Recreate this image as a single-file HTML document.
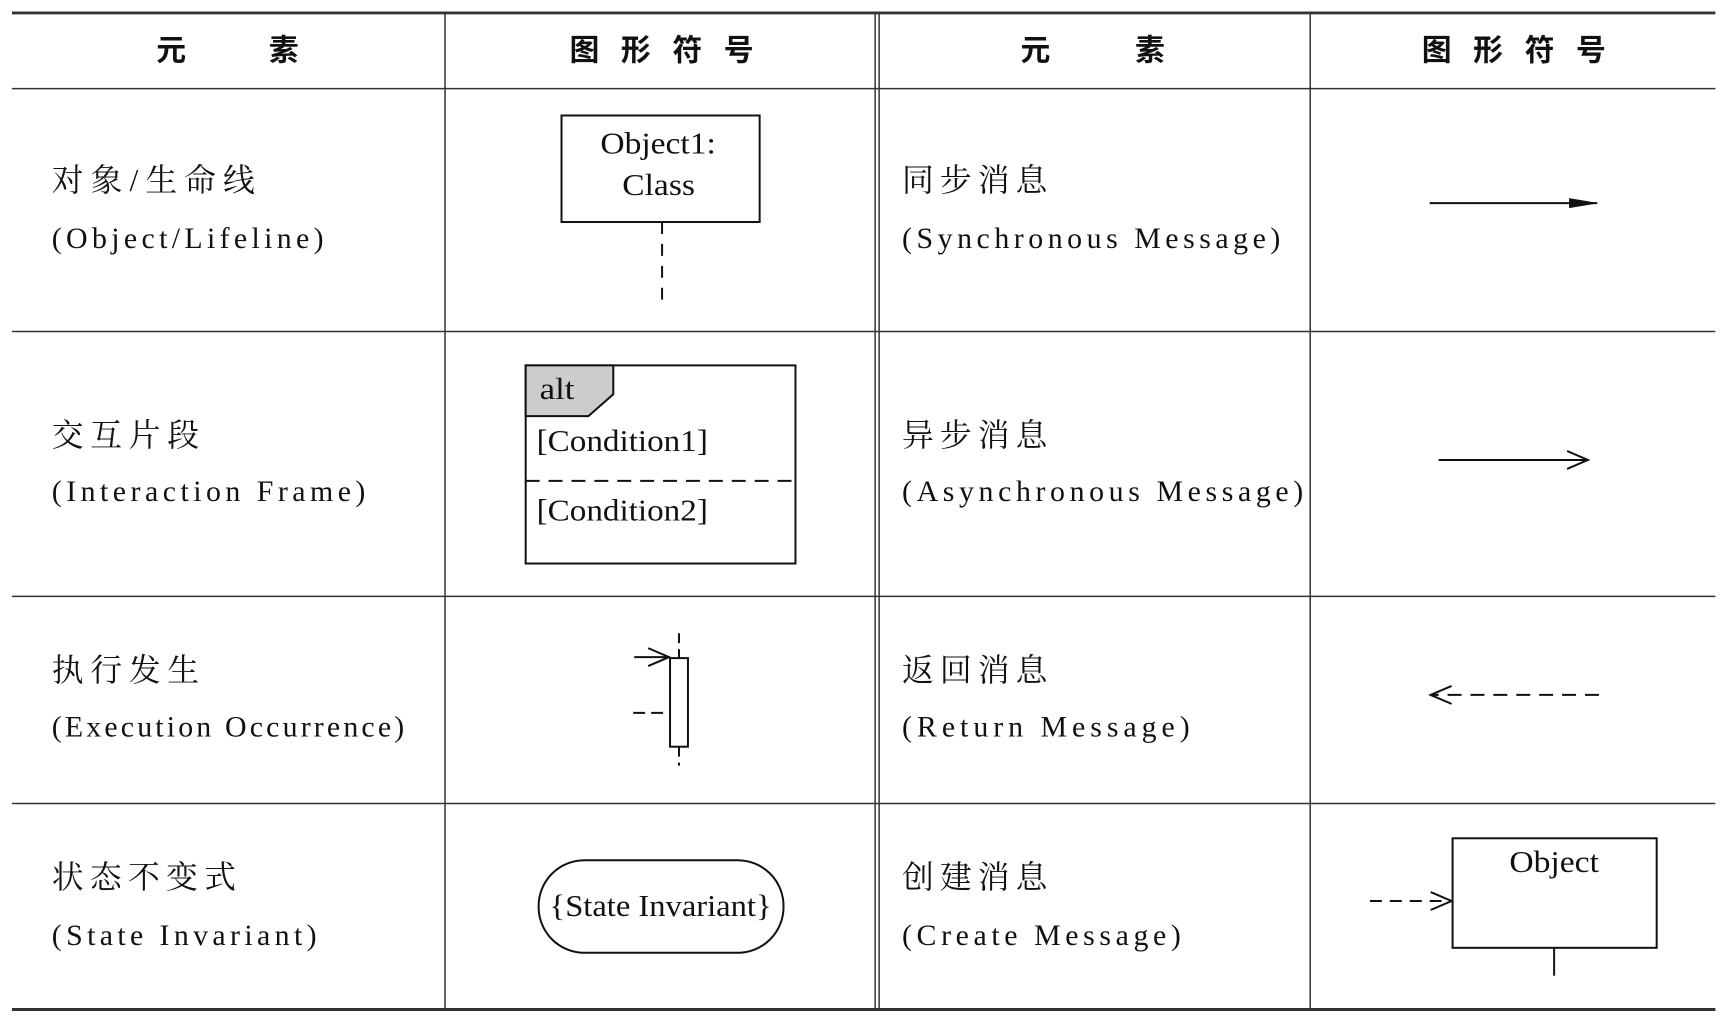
<!DOCTYPE html>
<html><head><meta charset="utf-8"><style>html,body{margin:0;padding:0;background:#fff}svg{display:block}</style></head>
<body>
<svg width="1734" height="1027" viewBox="0 0 1734 1027" xmlns="http://www.w3.org/2000/svg">
<defs>
<marker id="fill" markerWidth="30" markerHeight="12" refX="28" refY="6" orient="auto" markerUnits="userSpaceOnUse"><path d="M0,1 L30,6 L0,11 Z" fill="#111"/></marker>
<marker id="open" markerWidth="24" markerHeight="22" refX="22" refY="11" orient="auto" markerUnits="userSpaceOnUse"><path d="M1,2 L22,11 L1,20" fill="none" stroke="#111" stroke-width="2"/></marker>
</defs>
<g transform="scale(0.9956)">
<g stroke="#333" fill="none">
<line x1="12" y1="13" x2="1723" y2="13" stroke-width="3"/>
<line x1="12" y1="1014" x2="1723" y2="1014" stroke-width="3"/>
<line x1="12" y1="89" x2="1723" y2="89" stroke-width="1.5"/>
<line x1="12" y1="333" x2="1723" y2="333" stroke-width="1.5"/>
<line x1="12" y1="599" x2="1723" y2="599" stroke-width="1.5"/>
<line x1="12" y1="807" x2="1723" y2="807" stroke-width="1.5"/>
<line x1="447" y1="13" x2="447" y2="1014" stroke-width="1.5"/>
<line x1="879" y1="13" x2="879" y2="1014" stroke-width="1.5"/>
<line x1="883" y1="13" x2="883" y2="1014" stroke-width="1.5"/>
<line x1="1316" y1="13" x2="1316" y2="1014" stroke-width="1.5"/>
</g>
<g font-family="'Noto Sans CJK SC',sans-serif" font-weight="bold" font-size="30" fill="#111">
<text x="157" y="61">元</text><text x="270" y="61">素</text>
<text x="572" y="61" textLength="185" lengthAdjust="spacing">图形符号</text>
<text x="1025" y="61">元</text><text x="1140" y="61">素</text>
<text x="1428" y="61" textLength="185" lengthAdjust="spacing">图形符号</text>
</g>
<g font-family="'Liberation Serif','Noto Serif CJK SC',serif" font-size="32" fill="#111">
<text x="52" y="192" textLength="204" lengthAdjust="spacing">对象/生命线</text>
<text x="52" y="448" textLength="148" lengthAdjust="spacing">交互片段</text>
<text x="52" y="684" textLength="148" lengthAdjust="spacing">执行发生</text>
<text x="52" y="892" textLength="185" lengthAdjust="spacing">状态不变式</text>
<text x="906" y="192" textLength="146" lengthAdjust="spacing">同步消息</text>
<text x="906" y="448" textLength="146" lengthAdjust="spacing">异步消息</text>
<text x="906" y="684" textLength="146" lengthAdjust="spacing">返回消息</text>
<text x="906" y="892" textLength="146" lengthAdjust="spacing">创建消息</text>
</g>
<g font-family="'Liberation Serif',serif" font-size="30" fill="#111">
<text x="52" y="249" textLength="273" lengthAdjust="spacing">(Object/Lifeline)</text>
<text x="52" y="503" textLength="315" lengthAdjust="spacing">(Interaction Frame)</text>
<text x="52" y="740" textLength="354" lengthAdjust="spacing">(Execution Occurrence)</text>
<text x="52" y="949" textLength="266" lengthAdjust="spacing">(State Invariant)</text>
<text x="906" y="249" textLength="380" lengthAdjust="spacing">(Synchronous Message)</text>
<text x="906" y="503" textLength="403" lengthAdjust="spacing">(Asynchronous Message)</text>
<text x="906" y="740" textLength="289" lengthAdjust="spacing">(Return Message)</text>
<text x="906" y="949" textLength="280" lengthAdjust="spacing">(Create Message)</text>
</g>
<g stroke="#111" stroke-width="2" fill="none">
<rect x="564" y="116" width="199" height="107"/>
<line x1="665" y1="223" x2="665" y2="307" stroke-dasharray="12,10"/>
<line x1="1436" y1="204" x2="1604" y2="204" marker-end="url(#fill)"/>
<rect x="528" y="367" width="271" height="199"/>
<path d="M528,367 L616,367 L616,396 L591,418 L528,418 Z" fill="#ccc"/>
<line x1="528" y1="483" x2="799" y2="483" stroke-dasharray="14,9"/>
<line x1="1445" y1="462" x2="1595" y2="462" marker-end="url(#open)"/>
<line x1="682" y1="636" x2="682" y2="661" stroke-dasharray="10,6"/>
<line x1="682" y1="750" x2="682" y2="769" stroke-dasharray="10,6"/>
<rect x="673" y="661" width="18" height="89" fill="#fff"/>
<line x1="637" y1="660" x2="672" y2="660" marker-end="url(#open)"/>
<line x1="636" y1="716" x2="672" y2="716" stroke-dasharray="12,6"/>
<line x1="1606" y1="698" x2="1437" y2="698" stroke-dasharray="14,9" marker-end="url(#open)"/>
<rect x="541" y="864" width="246" height="93" rx="46" ry="46"/>
<rect x="1459" y="842" width="205" height="110"/>
<line x1="1561" y1="952" x2="1561" y2="980"/>
<line x1="1376" y1="905" x2="1458" y2="905" stroke-dasharray="12,8" marker-end="url(#open)"/>
</g>
<g font-family="'Liberation Serif',serif" font-size="31" fill="#111">
<text x="603" y="154" textLength="116" lengthAdjust="spacingAndGlyphs">Object1:</text>
<text x="625" y="196" textLength="73" lengthAdjust="spacingAndGlyphs">Class</text>
<text x="542" y="401" textLength="35" lengthAdjust="spacingAndGlyphs">alt</text>
<text x="539" y="453" textLength="172" lengthAdjust="spacingAndGlyphs">[Condition1]</text>
<text x="539" y="523" textLength="172" lengthAdjust="spacingAndGlyphs">[Condition2]</text>
<text x="552" y="920" textLength="223" lengthAdjust="spacingAndGlyphs">{State Invariant}</text>
<text x="1516" y="876" textLength="90" lengthAdjust="spacingAndGlyphs">Object</text>
</g>
</g>
</svg>
</body></html>
